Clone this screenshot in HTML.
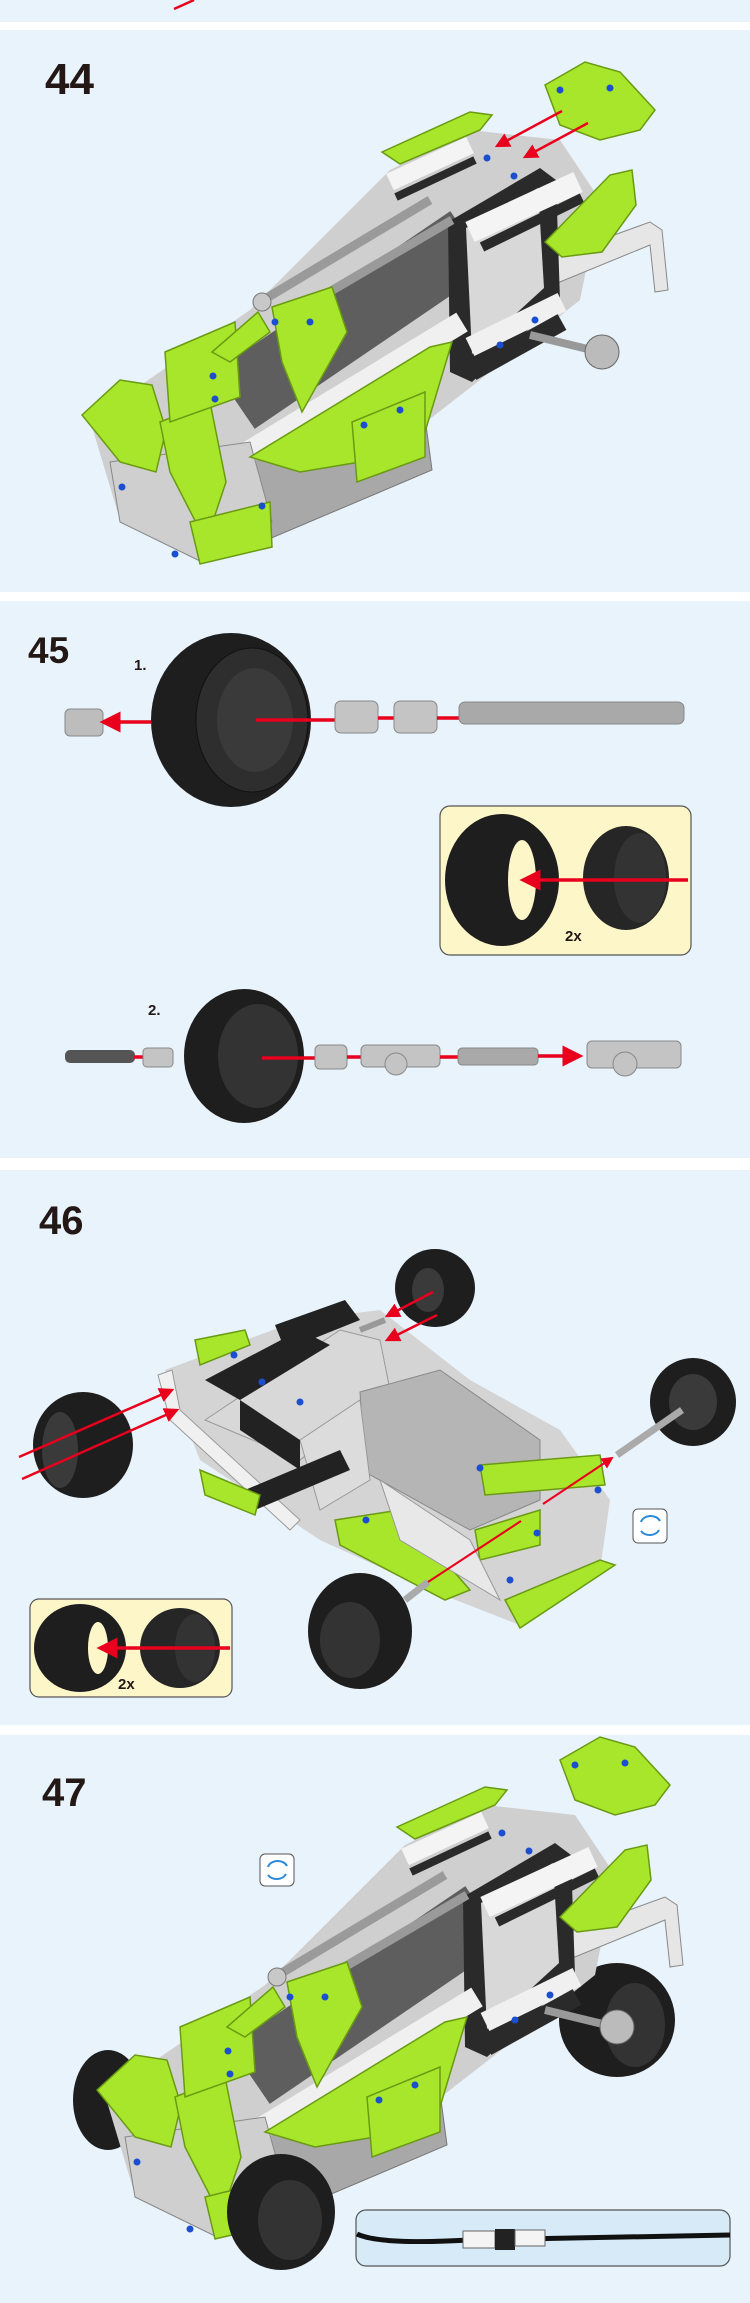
<!DOCTYPE html>
<html><head><meta charset="utf-8"><style>
html,body{margin:0;padding:0;background:#fff}
svg{display:block}
.g{fill:#a8e62c;stroke:#6a9a12;stroke-width:1.5}
.lbl{font-family:"Liberation Sans",sans-serif;font-weight:bold;fill:#231815}
</style></head><body>
<svg width="750" height="2303" viewBox="0 0 750 2303" xmlns="http://www.w3.org/2000/svg">
<defs>
<marker id="ah" markerWidth="6" markerHeight="6" refX="5" refY="3" orient="auto" markerUnits="strokeWidth"><path d="M0,0 L6,3 L0,6 Z" fill="#e8001c"/></marker>
<g id="car">
 <polygon points="90,420 250,310 390,170 470,130 560,140 600,200 580,300 480,380 300,520 200,560 120,520" fill="#cfcfcf"/>
 <path d="M540,262 L650,222 L662,230 L668,290 L655,292 L650,245 L555,284 Z" fill="#e6e6e6" stroke="#888"/>
 <polygon points="230,470 420,380 432,470 262,542" fill="#a8a8a8" stroke="#777"/>
 <line x1="235" y1="400" x2="470" y2="240" stroke="#5e5e5e" stroke-width="70"/>
 <polygon points="448,222 540,168 556,180 560,300 472,382 450,372" fill="#2a2a2a"/>
 <polygon points="466,228 538,188 544,288 472,354" fill="#d8d8d8"/>
 <line x1="390" y1="182" x2="470" y2="145" stroke="#f4f4f4" stroke-width="18"/>
 <line x1="396" y1="197" x2="475" y2="160" stroke="#2a2a2a" stroke-width="8"/>
 <line x1="470" y1="232" x2="578" y2="182" stroke="#f4f4f4" stroke-width="22"/>
 <line x1="482" y1="247" x2="582" y2="198" stroke="#2a2a2a" stroke-width="10"/>
 <line x1="255" y1="305" x2="430" y2="200" stroke="#9a9a9a" stroke-width="9"/>
 <line x1="285" y1="318" x2="452" y2="220" stroke="#9a9a9a" stroke-width="9"/>
 <circle cx="262" cy="302" r="9" fill="#c8c8c8" stroke="#777"/>
 <circle cx="290" cy="316" r="9" fill="#c8c8c8" stroke="#777"/>
 <line x1="232" y1="462" x2="462" y2="322" stroke="#f0f0f0" stroke-width="22"/>
 <line x1="470" y1="347" x2="562" y2="302" stroke="#f0f0f0" stroke-width="20"/>
 <line x1="472" y1="372" x2="562" y2="322" stroke="#2a2a2a" stroke-width="18"/>
 <line x1="530" y1="335" x2="600" y2="352" stroke="#999" stroke-width="8"/>
 <circle cx="602" cy="352" r="17" fill="#bbb" stroke="#666"/>
 <polygon points="110,462 250,442 272,522 202,562 120,522" fill="#cfcfcf" stroke="#888"/>
 <path class="g" d="M545,85 L585,62 L620,72 L655,110 L640,130 L600,140 L560,125 Z"/>
 <path class="g" d="M382,152 L470,112 L492,115 L480,130 L400,164 Z"/>
 <path class="g" d="M545,242 L610,175 L632,170 L636,205 L602,252 L562,257 Z"/>
 <path class="g" d="M82,415 L120,380 L152,385 L166,430 L156,472 L120,462 Z"/>
 <path class="g" d="M160,422 L210,402 L226,482 L206,542 L170,472 Z"/>
 <polygon class="g" points="165,352 235,322 240,397 170,422"/>
 <path class="g" d="M250,457 L430,347 L452,342 L422,442 L360,462 L300,472 Z"/>
 <path class="g" d="M272,307 L332,287 L347,332 L302,412 L282,362 Z"/>
 <path class="g" d="M212,352 L258,312 L270,332 L230,362 Z"/>
 <polygon class="g" points="190,522 270,502 272,547 200,564"/>
 <polygon class="g" points="352,422 425,392 425,457 357,482"/>
 <g fill="#1b4fd0"><circle cx="213" cy="376" r="3.5"/><circle cx="215" cy="399" r="3.5"/><circle cx="310" cy="322" r="3.5"/><circle cx="275" cy="322" r="3.5"/><circle cx="364" cy="425" r="3.5"/><circle cx="400" cy="410" r="3.5"/><circle cx="122" cy="487" r="3.5"/><circle cx="175" cy="554" r="3.5"/><circle cx="262" cy="506" r="3.5"/><circle cx="487" cy="158" r="3.5"/><circle cx="514" cy="176" r="3.5"/><circle cx="500" cy="345" r="3.5"/><circle cx="535" cy="320" r="3.5"/><circle cx="610" cy="88" r="3.5"/><circle cx="560" cy="90" r="3.5"/></g>
</g>
</defs>

<rect x="0" y="0" width="750" height="22" fill="#e8f3fb"/>
<rect x="0" y="30" width="750" height="562" fill="#e8f3fb"/>
<rect x="0" y="601" width="750" height="557" fill="#e8f3fb"/>
<rect x="0" y="1170" width="750" height="555" fill="#e8f3fb"/>
<rect x="0" y="1735" width="750" height="568" fill="#e8f3fb"/>
<line x1="174" y1="9" x2="194" y2="0" stroke="#e8001c" stroke-width="2.5"/>

<!-- 44 -->
<text class="lbl" x="45" y="94" font-size="44">44</text>
<use href="#car"/>
<line x1="562" y1="111" x2="497" y2="146" stroke="#e8001c" stroke-width="2.5" marker-end="url(#ah)"/>
<line x1="588" y1="123" x2="525" y2="157" stroke="#e8001c" stroke-width="2.5" marker-end="url(#ah)"/>

<!-- 45 -->
<text class="lbl" x="28" y="663" font-size="37">45</text>
<text class="lbl" x="134" y="670" font-size="15">1.</text>
<ellipse cx="231" cy="720" rx="80" ry="87" fill="#1e1e1e"/>
<ellipse cx="252" cy="720" rx="56" ry="72" fill="#2e2e2e" stroke="#111"/>
<ellipse cx="255" cy="720" rx="38" ry="52" fill="#3a3a3a"/>
<rect x="65" y="709" width="38" height="27" rx="5" fill="#bdbdbd" stroke="#888"/>
<line x1="151" y1="722" x2="103" y2="722" stroke="#e8001c" stroke-width="3.5" marker-end="url(#ah)"/>
<line x1="256" y1="720" x2="336" y2="720" stroke="#e8001c" stroke-width="3.5"/>
<rect x="335" y="701" width="43" height="32" rx="6" fill="#c4c4c4" stroke="#888"/>
<line x1="378" y1="718" x2="394" y2="718" stroke="#e8001c" stroke-width="3.5"/>
<rect x="394" y="701" width="43" height="32" rx="6" fill="#c4c4c4" stroke="#888"/>
<line x1="437" y1="718" x2="460" y2="718" stroke="#e8001c" stroke-width="3.5"/>
<rect x="459" y="702" width="225" height="22" rx="6" fill="#a9a9a9" stroke="#888"/>
<rect x="440" y="806" width="251" height="149" rx="10" fill="#fdf6c8" stroke="#555" stroke-width="1.2"/>
<ellipse cx="502" cy="880" rx="57" ry="66" fill="#1e1e1e"/>
<ellipse cx="522" cy="880" rx="14" ry="40" fill="#fdf6c8"/>
<ellipse cx="626" cy="878" rx="43" ry="52" fill="#262626"/>
<ellipse cx="640" cy="878" rx="26" ry="45" fill="#333"/>
<line x1="688" y1="880" x2="523" y2="880" stroke="#e8001c" stroke-width="3.5" marker-end="url(#ah)"/>
<text class="lbl" x="565" y="941" font-size="15">2x</text>
<text class="lbl" x="148" y="1015" font-size="15">2.</text>
<rect x="65" y="1050" width="70" height="13" rx="5" fill="#555"/>
<line x1="134" y1="1057" x2="143" y2="1057" stroke="#e8001c" stroke-width="3.5"/>
<rect x="143" y="1048" width="30" height="19" rx="4" fill="#c4c4c4" stroke="#888"/>
<ellipse cx="244" cy="1056" rx="60" ry="67" fill="#1e1e1e"/>
<ellipse cx="258" cy="1056" rx="40" ry="52" fill="#333"/>
<line x1="262" y1="1058" x2="316" y2="1058" stroke="#e8001c" stroke-width="3.5"/>
<rect x="315" y="1045" width="32" height="24" rx="5" fill="#c4c4c4" stroke="#888"/>
<line x1="347" y1="1057" x2="362" y2="1057" stroke="#e8001c" stroke-width="3.5"/>
<rect x="361" y="1045" width="79" height="22" rx="5" fill="#c4c4c4" stroke="#888"/>
<circle cx="396" cy="1064" r="11" fill="#c4c4c4" stroke="#888"/>
<line x1="440" y1="1057" x2="459" y2="1057" stroke="#e8001c" stroke-width="3.5"/>
<rect x="458" y="1048" width="80" height="17" rx="4" fill="#a9a9a9" stroke="#888"/>
<line x1="538" y1="1056" x2="580" y2="1056" stroke="#e8001c" stroke-width="3.5" marker-end="url(#ah)"/>
<rect x="587" y="1041" width="94" height="27" rx="5" fill="#c4c4c4" stroke="#888"/>
<circle cx="625" cy="1064" r="12" fill="#c4c4c4" stroke="#888"/>

<!-- 46 -->
<text class="lbl" x="39" y="1234" font-size="40">46</text>
<polygon points="165,1370 300,1320 380,1310 470,1380 560,1430 610,1500 600,1570 520,1625 430,1590 320,1540 200,1460" fill="#d4d4d4"/>
<polygon points="158,1375 172,1370 180,1410 300,1520 290,1530 170,1420" fill="#f0f0f0" stroke="#999"/>
<polygon points="205,1420 340,1330 380,1340 390,1390 300,1460" fill="#d8d8d8" stroke="#999"/>
<polygon points="360,1392 440,1370 540,1440 540,1500 470,1530 365,1472" fill="#b5b5b5" stroke="#888"/>
<polygon points="300,1440 360,1400 370,1480 320,1510" fill="#dcdcdc" stroke="#999"/>
<polygon points="205,1380 300,1330 330,1345 240,1400" fill="#222"/>
<polygon points="275,1325 345,1300 360,1320 285,1350" fill="#222"/>
<polygon points="240,1400 300,1440 300,1470 240,1430" fill="#222"/>
<polygon points="245,1490 340,1450 350,1470 255,1510" fill="#222"/>
<polygon class="g" points="195,1340 245,1330 250,1345 200,1365"/>
<polygon class="g" points="200,1470 260,1495 255,1515 205,1495"/>
<polygon class="g" points="335,1520 400,1510 470,1590 445,1600 340,1545"/>
<polygon class="g" points="480,1465 600,1455 605,1485 485,1495"/>
<polygon class="g" points="475,1530 540,1510 540,1545 480,1560"/>
<polygon class="g" points="505,1600 600,1560 615,1565 520,1628"/>
<polygon points="380,1480 470,1540 500,1600 400,1540" fill="#e8e8e8" stroke="#999"/>
<line x1="385" y1="1320" x2="360" y2="1330" stroke="#999" stroke-width="6"/>
<g fill="#1b4fd0"><circle cx="234" cy="1355" r="3.5"/><circle cx="262" cy="1382" r="3.5"/><circle cx="300" cy="1402" r="3.5"/><circle cx="480" cy="1468" r="3.5"/><circle cx="537" cy="1533" r="3.5"/><circle cx="598" cy="1490" r="3.5"/><circle cx="366" cy="1520" r="3.5"/><circle cx="510" cy="1580" r="3.5"/></g>
<ellipse cx="435" cy="1288" rx="40" ry="39" fill="#1e1e1e"/>
<ellipse cx="428" cy="1290" rx="16" ry="22" fill="#3a3a3a"/>
<ellipse cx="83" cy="1445" rx="50" ry="53" fill="#1e1e1e"/>
<ellipse cx="60" cy="1450" rx="18" ry="38" fill="#3a3a3a"/>
<ellipse cx="693" cy="1402" rx="43" ry="44" fill="#1e1e1e"/>
<ellipse cx="693" cy="1402" rx="24" ry="28" fill="#3a3a3a"/>
<line x1="617" y1="1455" x2="682" y2="1410" stroke="#aaa" stroke-width="7"/>
<ellipse cx="360" cy="1631" rx="52" ry="58" fill="#1e1e1e"/>
<ellipse cx="350" cy="1640" rx="30" ry="38" fill="#333"/>
<line x1="405" y1="1600" x2="428" y2="1582" stroke="#aaa" stroke-width="7"/>
<line x1="19" y1="1457" x2="172" y2="1390" stroke="#e8001c" stroke-width="2.5" marker-end="url(#ah)"/>
<line x1="22" y1="1479" x2="177" y2="1410" stroke="#e8001c" stroke-width="2.5" marker-end="url(#ah)"/>
<line x1="433" y1="1292" x2="387" y2="1316" stroke="#e8001c" stroke-width="2.5" marker-end="url(#ah)"/>
<line x1="437" y1="1315" x2="387" y2="1340" stroke="#e8001c" stroke-width="2.5" marker-end="url(#ah)"/>
<line x1="543" y1="1504" x2="612" y2="1458" stroke="#e8001c" stroke-width="2" marker-end="url(#ah)"/>
<line x1="428" y1="1582" x2="521" y2="1521" stroke="#e8001c" stroke-width="2"/>
<rect x="633" y="1509" width="34" height="34" rx="5" fill="#fff" stroke="#555"/>
<path d="M641,1522 A10,8 0 0 1 660,1521 M659,1530 A10,8 0 0 1 641,1531" fill="none" stroke="#2a8ad8" stroke-width="2"/>
<rect x="30" y="1599" width="202" height="98" rx="9" fill="#fdf6c8" stroke="#555" stroke-width="1.2"/>
<ellipse cx="80" cy="1648" rx="46" ry="44" fill="#1e1e1e"/>
<ellipse cx="98" cy="1648" rx="10" ry="26" fill="#fdf6c8"/>
<ellipse cx="180" cy="1648" rx="40" ry="40" fill="#262626"/>
<ellipse cx="195" cy="1648" rx="20" ry="34" fill="#333"/>
<line x1="230" y1="1648" x2="100" y2="1648" stroke="#e8001c" stroke-width="3.5" marker-end="url(#ah)"/>
<text class="lbl" x="118" y="1689" font-size="15">2x</text>

<!-- 47 -->
<text class="lbl" x="42" y="1806" font-size="40">47</text>
<ellipse cx="108" cy="2100" rx="35" ry="50" fill="#1e1e1e"/>
<ellipse cx="617" cy="2020" rx="58" ry="57" fill="#1e1e1e"/>
<ellipse cx="635" cy="2025" rx="30" ry="42" fill="#333"/>
<g transform="translate(15,1675)"><use href="#car"/></g>
<ellipse cx="281" cy="2212" rx="54" ry="58" fill="#1e1e1e"/>
<ellipse cx="290" cy="2220" rx="32" ry="40" fill="#333"/>
<rect x="260" y="1854" width="34" height="32" rx="5" fill="#fff" stroke="#555"/>
<path d="M268,1867 A10,8 0 0 1 287,1866 M286,1874 A10,8 0 0 1 268,1875" fill="none" stroke="#2a8ad8" stroke-width="2"/>
<rect x="356" y="2210" width="374" height="56" rx="10" fill="#d6eaf8" stroke="#555" stroke-width="1.2"/>
<path d="M357,2234 Q380,2245 470,2240 L730,2235" fill="none" stroke="#111" stroke-width="5"/>
<rect x="463" y="2231" width="32" height="17" fill="#f4f4f4" stroke="#666"/>
<rect x="495" y="2229" width="20" height="21" fill="#222"/>
<rect x="515" y="2230" width="30" height="16" fill="#f4f4f4" stroke="#666"/>
</svg>
</body></html>
